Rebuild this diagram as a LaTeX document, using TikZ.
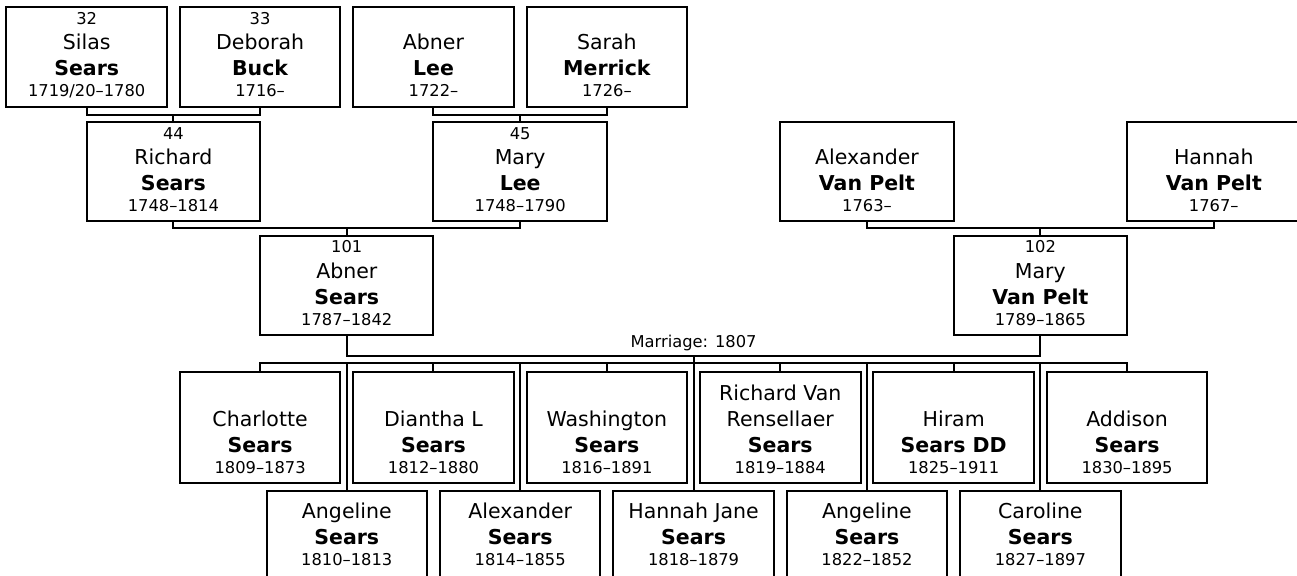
\documentclass[tikz,border=0pt]{standalone}
\usepackage{fontspec}
\setmainfont{DejaVu Sans}
\usetikzlibrary{calc}
\newcommand{\cardname}{\fontsize{20.5}{24}\selectfont}
\newcommand{\cardsmall}{\fontsize{16.3}{19}\selectfont}
\tikzset{
  card/.style={draw, line width=2pt, inner sep=0pt},
  topcard/.style={card, minimum width=160.5pt, minimum height=99.7pt},
  parentcard/.style={card, minimum width=173.4pt, minimum height=98.7pt},
  kidcard/.style={card, minimum width=160.5pt, minimum height=111pt},
  nametxt/.style={font=\cardname, anchor=base, inner sep=0pt},
  surtxt/.style={font=\cardname\bfseries, anchor=base, inner sep=0pt},
  smalltxt/.style={font=\cardsmall, anchor=base, inner sep=0pt},
  link/.style={line width=2pt},
}
% text lines of one card: box, baseline of given name below north, number, given, surname, dates
\newcommand{\personbox}[6]{%
  \if\relax\detokenize{#3}\relax\else
    \node[smalltxt] (#1-n) at ([yshift=-#2pt+25.5pt]#1.north) {#3};
  \fi
  \node[nametxt] (#1-g) at ([yshift=-#2pt]#1.north) {#4};
  \node[surtxt] (#1-s) at ([yshift=-#2pt-26pt]#1.north) {#5};
  \node[smalltxt] (#1-d) at ([yshift=-#2pt-47pt]#1.north) {#6};
}
\begin{document}
\begin{tikzpicture}[x=86.7pt, y=-1pt]
  \useasboundingbox (0,0) rectangle (14.96,576);
  \clip (0,0) rectangle (14.96,576);

  % great-grandparents
  \node[topcard] (silas) at (1,57.2) {};
  \node[topcard] (deborah) at (3,57.2) {};
  \node[topcard] (abnerlee) at (5,57.2) {};
  \node[topcard] (sarah) at (7,57.2) {};
  % grandparents
  \node[parentcard] (richard) at (2,171.7) {};
  \node[parentcard] (marylee) at (6,171.7) {};
  \node[parentcard] (alexvp) at (10,171.7) {};
  \node[parentcard] (hannahvp) at (14,171.7) {};
  % the couple
  \node[parentcard] (abner) at (4,285.8) {};
  \node[parentcard] (maryvp) at (12,285.8) {};
  % children
  \node[kidcard] (charlotte) at (3,427.7) {};
  \node[kidcard] (diantha) at (5,427.7) {};
  \node[kidcard] (washington) at (7,427.7) {};
  \node[kidcard] (richardvr) at (9,427.7) {};
  \node[kidcard] (hiram) at (11,427.7) {};
  \node[kidcard] (addison) at (13,427.7) {};
  \node[kidcard] (angeline) at (4,546.5) {};
  \node[kidcard] (alexander) at (6,546.5) {};
  \node[kidcard] (hannahj) at (8,546.5) {};
  \node[kidcard] (angelinb) at (10,546.5) {};
  \node[kidcard] (caroline) at (12,546.5) {};

  \personbox{silas}{43.5}{32}{Silas}{Sears}{1719/20–1780}
  \personbox{deborah}{43.5}{33}{Deborah}{Buck}{1716–}
  \personbox{abnerlee}{43.5}{}{Abner}{Lee}{1722–}
  \personbox{sarah}{43.5}{}{Sarah}{Merrick}{1726–}
  \personbox{richard}{43.5}{44}{Richard}{Sears}{1748–1814}
  \personbox{marylee}{43.5}{45}{Mary}{Lee}{1748–1790}
  \personbox{alexvp}{43.5}{}{Alexander}{Van Pelt}{1763–}
  \personbox{hannahvp}{43.5}{}{Hannah}{Van Pelt}{1767–}
  \personbox{abner}{43}{101}{Abner}{Sears}{1787–1842}
  \personbox{maryvp}{43}{102}{Mary}{Van Pelt}{1789–1865}
  \personbox{charlotte}{55}{}{Charlotte}{Sears}{1809–1873}
  \personbox{diantha}{55}{}{Diantha L}{Sears}{1812–1880}
  \personbox{washington}{55}{}{Washington}{Sears}{1816–1891}
  \personbox{richardvr}{55}{\cardname Richard Van}{Rensellaer}{Sears}{1819–1884}
  \personbox{hiram}{55}{}{Hiram}{Sears DD}{1825–1911}
  \personbox{addison}{55}{}{Addison}{Sears}{1830–1895}
  \personbox{angeline}{28.3}{}{Angeline}{Sears}{1810–1813}
  \personbox{alexander}{28.3}{}{Alexander}{Sears}{1814–1855}
  \personbox{hannahj}{28.3}{}{Hannah Jane}{Sears}{1818–1879}
  \personbox{angelinb}{28.3}{}{Angeline}{Sears}{1822–1852}
  \personbox{caroline}{28.3}{}{Caroline}{Sears}{1827–1897}

  % parent links
  \coordinate (jA) at (2,115);
  \coordinate (jB) at (6,115);
  \coordinate (jC) at (4,228);
  \coordinate (jD) at (12,228);
  \coordinate (wed) at (8,356);
  \coordinate (bus) at (8,363.5);
  \draw[link] (silas.south) |- (jA) -| (deborah.south);
  \draw[link] (jA) -- (richard.north);
  \draw[link] (abnerlee.south) |- (jB) -| (sarah.south);
  \draw[link] (jB) -- (marylee.north);
  \draw[link] (richard.south) |- (jC) -| (marylee.south);
  \draw[link] (jC) -- (abner.north);
  \draw[link] (alexvp.south) |- (jD) -| (hannahvp.south);
  \draw[link] (jD) -- (maryvp.north);

  % marriage and children
  \draw[link] (abner.south) |- (wed) -| (maryvp.south);
  \node[smalltxt] (wedlabel) at (8,348) {Marriage: 1807};
  \draw[link] (wed) -- (hannahj.north);
  \draw[link] (charlotte.north) |- (bus) -| (addison.north);
  \foreach \kid in {diantha,washington,richardvr,hiram,angeline,alexander,angelinb,caroline}
    \draw[link] (\kid.north |- bus) -- (\kid.north);
\end{tikzpicture}
\end{document}
